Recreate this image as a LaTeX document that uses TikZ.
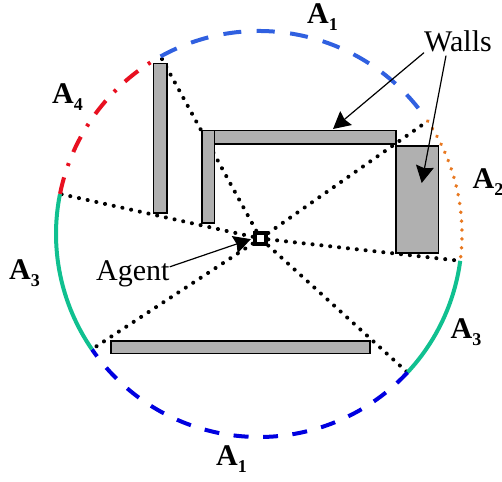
\documentclass[tikz,border=0pt]{standalone}
\usepackage{fontspec}
\setmainfont{Liberation Serif}
\usepackage{xcolor}
\usetikzlibrary{arrows.meta,backgrounds,calc}
\definecolor{wallgray}{RGB}{176,176,176}
\definecolor{arcblue}{RGB}{48,96,224}
\definecolor{arcnavy}{RGB}{0,0,224}
\definecolor{arcred}{RGB}{232,16,32}
\definecolor{arcgreen}{RGB}{16,192,144}
\definecolor{arcorange}{RGB}{232,120,32}
\newcommand{\arclabel}[1]{\textbf{A}\raisebox{-7pt}{\fontsize{18}{18}\selectfont\textbf{#1}}}

\begin{document}
\begin{tikzpicture}[
  x=1pt, y=1pt,
  font=\fontsize{30}{33}\selectfont,
  arr/.style={-{Stealth[length=17pt,width=18pt,inset=2pt]}, line width=1.2pt},
  wall/.style={draw, fill=wallgray, line width=1.5pt, inner sep=0pt, anchor=north west},
  ray/.style={line width=4pt, line cap=round, dash pattern=on 0.1pt off 8.8pt},
  rim/.style={line width=4pt},
  lab/.style={inner sep=0pt, anchor=base west},
]
\useasboundingbox (0,0) rectangle (502,-481);
\coordinate (c) at (259,-234);
\coordinate (p1) at ($(c)+(119:203)$);
\coordinate (p2) at ($(c)+(33.8:203)$);
\coordinate (p3) at ($(c)+(-7.6:203)$);
\coordinate (p4) at ($(c)+(-43:203)$);
\coordinate (p5) at ($(c)+(214.6:203)$);
\coordinate (p6) at ($(c)+(168.6:203)$);
% walls
\node[wall, minimum width=13.5pt, minimum height=149.5pt] (wallL) at (152.5,-62.7) {};
\node[wall, minimum width=194pt, minimum height=13pt] (wallT) at (201,-130) {};
\node[wall, minimum width=12.7pt, minimum height=92pt] (wallS) at (201,-130) {};
\node[wall, minimum width=42.7pt, minimum height=107pt] (wallR) at (395,-145) {};
\node[wall, minimum width=259pt, minimum height=12.7pt] (wallB) at (110,-340) {};
\node[draw, fill=white, line width=4.5pt, minimum size=11pt, inner sep=0pt] (agent) at (260.5,-238.5) {};
% labels
\node[lab] (walls) at (424,-52) {Walls};
\node[lab] (agentlab) at (96,-280) {Agent};
\node[lab] (a1top) at (307,-23.5) {\arclabel{1}};
\node[lab] (a4) at (52,-104) {\arclabel{4}};
\node[lab] (a2) at (472.5,-188) {\arclabel{2}};
\node[lab] (a3l) at (9,-279) {\arclabel{3}};
\node[lab] (a3r) at (450.5,-338) {\arclabel{3}};
\node[lab] (a1bot) at (216,-465.5) {\arclabel{1}};
% sight lines
\begin{scope}[on background layer]
\foreach \p in {p1,p2,p3,p4,p5,p6}
  \draw[ray] (agent) -- (\p);
\end{scope}
% visible arcs
\draw[rim, arcblue, dash pattern=on 18pt off 15.5pt] (p1) arc[start angle=119, end angle=33.8, radius=203pt];
\draw[line width=3.8pt, line cap=round, arcorange, dash pattern=on 0.1pt off 8.8pt] (p2) arc[start angle=33.8, end angle=-7.6, radius=203pt];
\draw[rim, arcgreen] (p3) arc[start angle=-7.6, end angle=-43, radius=203pt];
\draw[rim, arcnavy, dash pattern=on 15pt off 14.5pt] (p4) arc[start angle=-43, end angle=-145.4, radius=203pt];
\draw[rim, arcgreen] (p5) arc[start angle=214.6, end angle=168.6, radius=203pt];
\draw[rim, arcred, dash pattern=on 17pt off 12pt on 3pt off 12pt] (p6) arc[start angle=168.6, end angle=119, radius=203pt];
% pointers
\coordinate (tipT) at (333,-129);
\coordinate (tipR) at (421.7,-183);
\draw[arr] (walls.south west) -- (tipT);
\draw[arr] ([xshift=-12pt,yshift=-3pt]walls.south) -- (tipR);
\draw[arr, shorten >=2pt] ([yshift=6.5pt]agentlab.east) -- (agent.west);
\end{tikzpicture}
\end{document}
